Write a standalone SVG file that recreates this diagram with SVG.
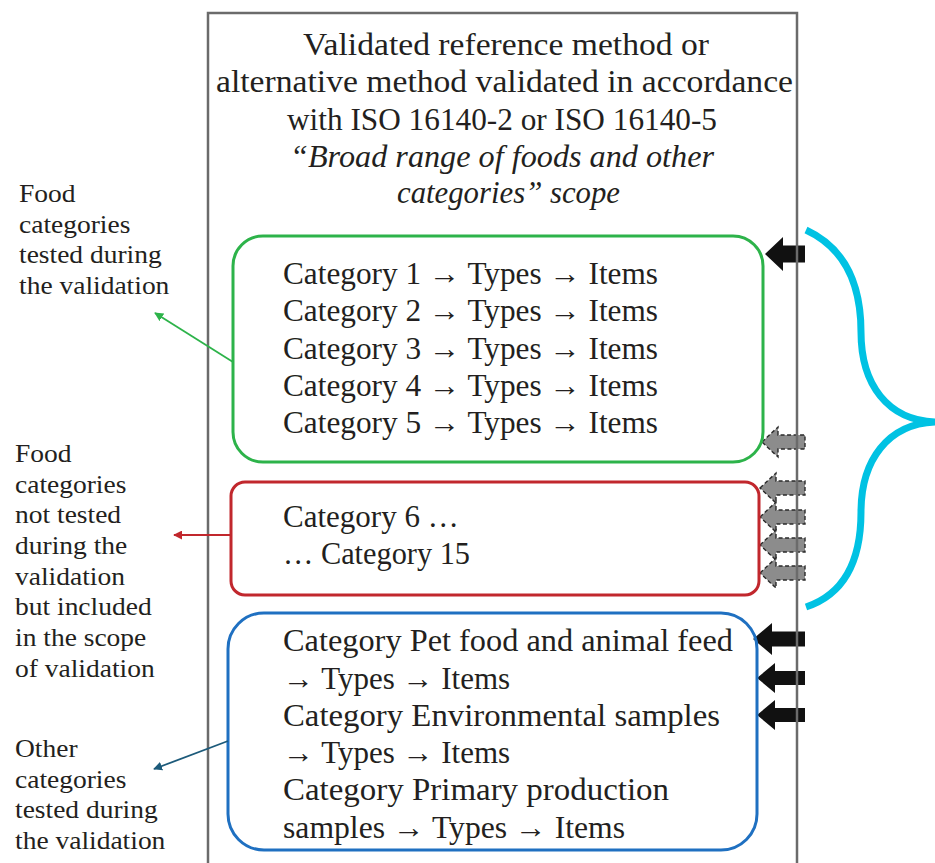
<svg xmlns="http://www.w3.org/2000/svg" width="935" height="863" viewBox="0 0 935 863">
<defs>
<style>
text{font-family:"Liberation Serif","Times New Roman",serif;fill:#231f20}
.t{font-size:31px;text-anchor:middle}
.c{font-size:31px}
.l{font-size:25px}
.it{font-style:italic}
.blk{fill:#111;stroke:none}
.gry{fill:#8c8c8c;stroke:#2a2a2a;stroke-width:1.4;stroke-dasharray:4 2.5}
</style>
<marker id="mg" viewBox="0 0 10 10" refX="9" refY="5" markerWidth="5" markerHeight="5" markerUnits="strokeWidth" orient="auto"><path d="M0,0L10,5L0,10z" fill="#2db34a"/></marker>
<marker id="mr" viewBox="0 0 10 10" refX="9" refY="5" markerWidth="5" markerHeight="5" markerUnits="strokeWidth" orient="auto"><path d="M0,0L10,5L0,10z" fill="#c1272d"/></marker>
<marker id="mb" viewBox="0 0 10 10" refX="9" refY="5" markerWidth="5" markerHeight="5" markerUnits="strokeWidth" orient="auto"><path d="M0,0L10,5L0,10z" fill="#1c5a7a"/></marker>
</defs>
<rect width="935" height="863" fill="#fff"/>

<g id="side-arrows">
<path class="blk" d="M765,254 L783,237 L783,245.5 L805,245.5 L805,262.5 L783,262.5 L783,271 Z"/>
<path class="gry" d="M762,442 L778,427 L778,435 L805,435 L805,449 L778,449 L778,457 Z"/>
<path class="gry" d="M760,488 L776,473 L776,481 L805,481 L805,495 L776,495 L776,503 Z"/>
<path class="gry" d="M760,517 L776,502 L776,510 L805,510 L805,524 L776,524 L776,532 Z"/>
<path class="gry" d="M760,545 L776,530 L776,538 L805,538 L805,552 L776,552 L776,560 Z"/>
<path class="gry" d="M760,573 L776,558 L776,566 L805,566 L805,580 L776,580 L776,588 Z"/>
<path class="blk" d="M753,639 L772,623 L772,631.5 L805,631.5 L805,646.5 L772,646.5 L772,655 Z"/>
<path class="blk" d="M757,678 L775,663 L775,671 L805,671 L805,685 L775,685 L775,693 Z"/>
<path class="blk" d="M757,715 L775,700 L775,708 L805,708 L805,722 L775,722 L775,730 Z"/>
</g>

<g id="frame">
<rect x="208" y="13" width="589" height="900" fill="none" stroke="#6b6b6b" stroke-width="2.5"/>
<text class="t" x="506" y="55" textLength="406" lengthAdjust="spacingAndGlyphs">Validated reference method or</text>
<text class="t" x="504.5" y="92" textLength="577" lengthAdjust="spacingAndGlyphs">alternative method validated in accordance</text>
<text class="t" x="502" y="130" textLength="430" lengthAdjust="spacingAndGlyphs">with ISO 16140-2 or ISO 16140-5</text>
<text class="t it" x="502" y="167" textLength="424" lengthAdjust="spacingAndGlyphs">“Broad range of foods and other</text>
<text class="t it" x="508.5" y="203" textLength="223" lengthAdjust="spacingAndGlyphs">categories” scope</text>
</g>

<g id="tested-box">
<rect x="233" y="236" width="530" height="226" rx="30" fill="none" stroke="#2db34a" stroke-width="3"/>
<text class="c" x="283" y="284" textLength="375" lengthAdjust="spacingAndGlyphs">Category 1 → Types → Items</text>
<text class="c" x="283" y="321" textLength="375" lengthAdjust="spacingAndGlyphs">Category 2 → Types → Items</text>
<text class="c" x="283" y="359" textLength="375" lengthAdjust="spacingAndGlyphs">Category 3 → Types → Items</text>
<text class="c" x="283" y="396" textLength="375" lengthAdjust="spacingAndGlyphs">Category 4 → Types → Items</text>
<text class="c" x="283" y="433" textLength="375" lengthAdjust="spacingAndGlyphs">Category 5 → Types → Items</text>
</g>

<g id="untested-box">
<rect x="231" y="482" width="528" height="113" rx="14" fill="none" stroke="#c1272d" stroke-width="3"/>
<text class="c" x="283" y="527">Category 6 …</text>
<text class="c" x="283" y="564" textLength="187" lengthAdjust="spacingAndGlyphs">… Category 15</text>
</g>

<g id="other-box">
<rect x="228" y="613" width="529" height="237" rx="36" fill="none" stroke="#1f70c1" stroke-width="3"/>
<text class="c" x="283" y="651" textLength="450" lengthAdjust="spacingAndGlyphs">Category Pet food and animal feed</text>
<text class="c" x="283" y="689">→ Types → Items</text>
<text class="c" x="283" y="726" textLength="437" lengthAdjust="spacingAndGlyphs">Category Environmental samples</text>
<text class="c" x="283" y="763">→ Types → Items</text>
<text class="c" x="283" y="800" textLength="386" lengthAdjust="spacingAndGlyphs">Category Primary production</text>
<text class="c" x="283" y="838" textLength="342" lengthAdjust="spacingAndGlyphs">samples → Types → Items</text>
</g>

<g id="label-tested" transform="translate(19,0) scale(1.1,1)">
<text class="l" x="0" y="202">Food</text>
<text class="l" x="0" y="232.7">categories</text>
<text class="l" x="0" y="263.4">tested during</text>
<text class="l" x="0" y="294">the validation</text>
</g>

<g id="label-untested" transform="translate(15,0) scale(1.1,1)">
<text class="l" x="0" y="462">Food</text>
<text class="l" x="0" y="492.7">categories</text>
<text class="l" x="0" y="523.4">not tested</text>
<text class="l" x="0" y="554">during the</text>
<text class="l" x="0" y="584.8">validation</text>
<text class="l" x="0" y="615.5">but included</text>
<text class="l" x="0" y="646">in the scope</text>
<text class="l" x="0" y="677">of validation</text>
</g>

<g id="label-other" transform="translate(15,0) scale(1.1,1)">
<text class="l" x="0" y="757">Other</text>
<text class="l" x="0" y="787.7">categories</text>
<text class="l" x="0" y="818.4">tested during</text>
<text class="l" x="0" y="849">the validation</text>
</g>

<g id="brace">
<path d="M806,230 C845,248 861,285 861,332 C861,385 888,420 935,422 C888,424 861,460 861,512 C861,560 845,594 806,607" fill="none" stroke="#00c2e3" stroke-width="7"/>
</g>

<g id="connectors">
<line x1="233" y1="362" x2="155" y2="313" stroke="#2db34a" stroke-width="1.8" marker-end="url(#mg)"/>
<line x1="231" y1="535" x2="174" y2="535" stroke="#c1272d" stroke-width="1.8" marker-end="url(#mr)"/>
<line x1="228" y1="741" x2="154" y2="769" stroke="#1c5a7a" stroke-width="1.8" marker-end="url(#mb)"/>
</g>
</svg>
